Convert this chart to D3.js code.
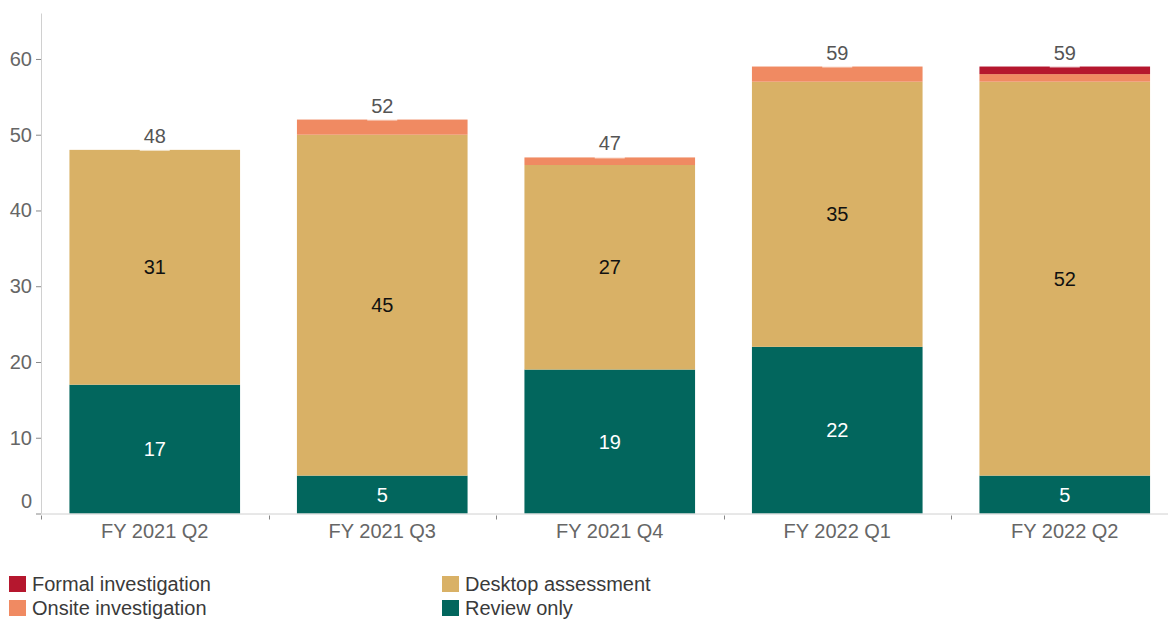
<!DOCTYPE html>
<html>
<head>
<meta charset="utf-8">
<script src="https://cdn.jsdelivr.net/npm/d3@7"></script>
<style>
  html, body { margin: 0; padding: 0; background: #fff; }
  svg { display: block; font-family: "Liberation Sans", Arial, sans-serif; }
</style>
</head>
<body>
<svg id="chart" width="1168" height="619"></svg>
<script>
// Quarterly counts by assessment type
const quarters = ["FY 2021 Q2", "FY 2021 Q3", "FY 2021 Q4", "FY 2022 Q1", "FY 2022 Q2"];
const reviewOnly = [17, 5, 19, 22, 5];
const desktopAssessment = [31, 45, 27, 35, 52];
const onsiteInvestigation = [0, 2, 1, 2, 1];
const formalInvestigation = [0, 0, 0, 0, 1];
const yTicks = [0, 10, 20, 30, 40, 50, 60];

const seriesNames = ["Review only", "Desktop assessment", "Onsite investigation", "Formal investigation"];
const seriesColors = ["#02665D", "#D9B166", "#F08A62", "#B5172E"];
const seriesValues = [reviewOnly, desktopAssessment, onsiteInvestigation, formalInvestigation];
const labelColors = ["#ffffff", "#111111", null, null];
const FONT = "\"Liberation Sans\", Arial, sans-serif";

const rows = quarters.map((q, i) => {
  const r = { quarter: q };
  seriesNames.forEach((s, k) => { r[s] = seriesValues[k][i]; });
  return r;
});
const stacked = d3.stack().keys(seriesNames)(rows);
const totals = rows.map(r => d3.sum(seriesNames, s => r[s]));

const svg = d3.select("#chart");
const x = d3.scaleBand().domain(quarters).range([41, 1178.5]).paddingInner(0.25).paddingOuter(0.125);
const y = d3.scaleLinear().domain([0, 66]).range([513.5, 13.5]);

// bars
const layers = svg.append("g").selectAll("g").data(stacked).join("g")
  .attr("fill", (d, i) => seriesColors[i]);
layers.selectAll("rect").data(d => d).join("rect")
  .attr("x", d => x(d.data.quarter))
  .attr("width", x.bandwidth())
  .attr("y", d => y(d[1]))
  .attr("height", d => y(d[0]) - y(d[1]));

// in-bar value labels
stacked.forEach((layer, k) => {
  if (!labelColors[k]) return;
  svg.append("g").selectAll("text").data(layer.filter(d => d[1] - d[0] > 0)).join("text")
    .attr("x", d => x(d.data.quarter) + x.bandwidth() / 2)
    .attr("y", d => (y(d[0]) + y(d[1])) / 2)
    .attr("dy", "0.35em")
    .attr("text-anchor", "middle")
    .attr("font-size", 20)
    .attr("fill", labelColors[k])
    .text(d => d[1] - d[0]);
});

// total labels with a light backing box
const tot = svg.append("g").selectAll("g").data(quarters).join("g")
  .attr("transform", (q, i) => `translate(${x(q) + x.bandwidth() / 2},${y(totals[i])})`);
tot.append("rect")
  .attr("x", -15).attr("y", -22).attr("width", 30).attr("height", 23)
  .attr("fill", "#fff").attr("fill-opacity", 0.7);
tot.append("text")
  .attr("y", -7)
  .attr("text-anchor", "middle")
  .attr("font-size", 20)
  .attr("fill", "#555")
  .text((q, i) => totals[i]);

// y axis
const yAxis = svg.append("g").attr("transform", "translate(41,0)")
  .call(d3.axisLeft(y).tickValues(yTicks).tickSize(5).tickPadding(4));
yAxis.select(".domain").remove();
svg.append("line").attr("x1", 41.5).attr("x2", 41.5).attr("y1", y(66)).attr("y2", y(0))
  .attr("stroke", "#d0d0d0");
yAxis.selectAll(".tick line").attr("stroke", "#888");
yAxis.selectAll(".tick text").attr("font-size", 20).attr("fill", "#666")
  .attr("font-family", FONT)
  .attr("y", d => d === 0 ? -12 : 0);

// x axis
const xAxis = svg.append("g").attr("transform", `translate(0,${y(0) + 0.5})`)
  .call(d3.axisBottom(x).tickSize(0).tickPadding(10));
xAxis.select(".domain").remove();
svg.append("line").attr("x1", 41).attr("x2", 1168).attr("y1", y(0) + 0.5).attr("y2", y(0) + 0.5)
  .attr("stroke", "#d0d0d0");
xAxis.selectAll(".tick text").attr("font-size", 20).attr("fill", "#666")
  .attr("font-family", FONT);
// boundary ticks between categories
svg.append("g").selectAll("line").data(quarters).join("line")
  .attr("x1", q => Math.round(x(q) - x.step() * 0.125) + 0.5)
  .attr("x2", q => Math.round(x(q) - x.step() * 0.125) + 0.5)
  .attr("y1", y(0) + 2).attr("y2", y(0) + 6)
  .attr("stroke", "#888");

// legend
const legendItems = [
  { name: "Formal investigation", color: seriesColors[3], col: 0, row: 0 },
  { name: "Onsite investigation", color: seriesColors[2], col: 0, row: 1 },
  { name: "Desktop assessment", color: seriesColors[1], col: 1, row: 0 },
  { name: "Review only", color: seriesColors[0], col: 1, row: 1 }
];
const lg = svg.append("g").selectAll("g").data(legendItems).join("g")
  .attr("transform", d => `translate(${9 + d.col * 433},${576 + d.row * 24})`);
lg.append("rect").attr("width", 17).attr("height", 16).attr("fill", d => d.color);
lg.append("text").attr("x", 23).attr("y", 8).attr("dy", "0.36em")
  .attr("font-size", 20).attr("fill", "#3a3a3a").text(d => d.name);
</script>
</body>
</html>
